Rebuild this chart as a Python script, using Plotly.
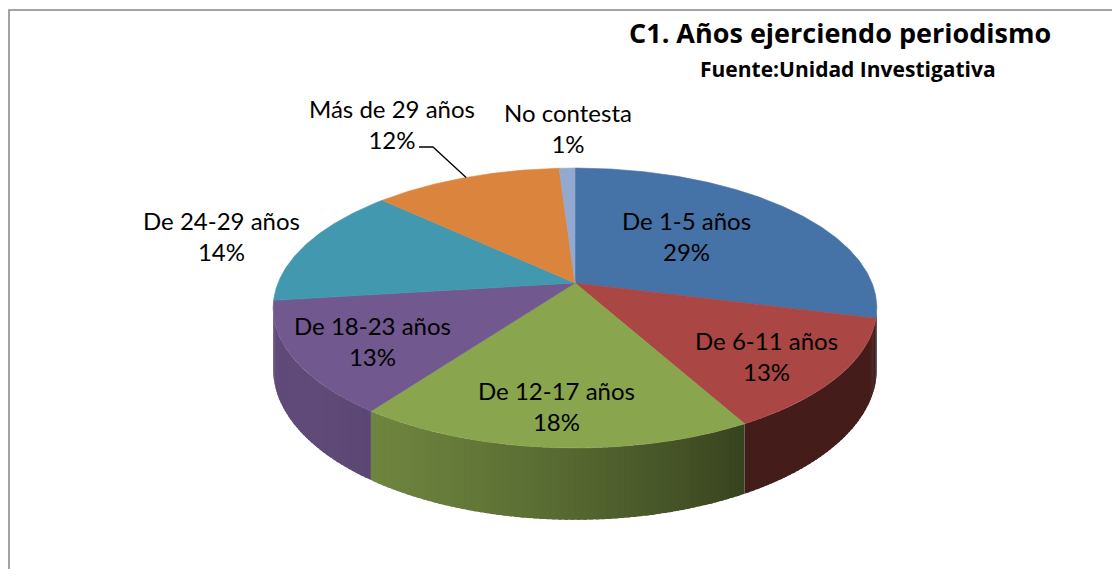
import numpy as np
import plotly.graph_objects as go

# ---------------- data ----------------
categories = ["De 1-5 años", "De 6-11 años", "De 12-17 años", "De 18-23 años",
              "De 24-29 años", "Más de 29 años", "No contesta"]
percent = [29, 13, 18, 13, 14, 12, 1]
colors = ["#4572A7", "#AA4643", "#89A54E", "#71588F", "#4198AF", "#DB843D", "#93A9CF"]
title_text = "C1. Años ejerciendo periodismo"
subtitle_text = "Fuente:Unidad Investigativa"

# ---------------- layout / geometry ----------------
PAGE_MARGIN = 8              # browser body margin around the plot div
W, H = 1120, 577
CX, CY = 575.0, 283.0        # projected pie centre (page pixels)
A, B = 297.0, 135.5          # horizontal / vertical radius factors
K = 0.1786                   # perspective factor
DEPTH = 59.0                 # pie thickness
FONT = "Lato"
TITLE_FONT = "Open Sans"
label_pos = [(686, 236), (766, 356), (556, 406), (372, 341), (221, 236), (392, 124), (568, 128)]
leader_start = [(419, 147), (433, 147)]   # leader line for "Más de 29 años"


def proj(theta_deg, r=1.0, drop=0.0):
    t = np.radians(theta_deg)
    u = r * np.sin(t)
    v = r * np.cos(t)
    d = 1 + K * v
    return CX + A * u / d, CY - B * v / d + drop / d


def shade(hexcol, f):
    h = hexcol.lstrip("#")
    r, g, b = (int(h[i:i + 2], 16) for i in (0, 2, 4))
    return "rgb(%d,%d,%d)" % (r * f, g * f, b * f)


def side_factor(theta):
    return 0.4 + 0.45 * max(0.0, np.cos(np.radians(theta - 240)))


total = float(sum(percent))
bounds = np.concatenate([[0.0], np.cumsum(percent) / total * 360.0])

fig = go.Figure()

# visible front side range
th_r = np.degrees(np.arccos(-K))
th_l = 360 - th_r

# ---- sides (drawn as overlapping thin strips for a smooth gradient) ----
for i, col in enumerate(colors):
    lo = max(bounds[i], th_r)
    hi = min(bounds[i + 1], th_l)
    if lo >= hi:
        continue
    n = int(np.ceil((hi - lo) / 1.0))
    edges = np.linspace(lo, hi, n + 1)
    step = edges[1] - edges[0]
    for j, (a0, a1) in enumerate(zip(edges[:-1], edges[1:])):
        a1e = min(hi, a1 + 0.6 * step)
        ts = np.linspace(a0, a1e, 4)
        xt, yt = proj(ts)
        xb, yb = proj(ts[::-1], drop=DEPTH)
        c = shade(col, side_factor((a0 + a1) / 2))
        fig.add_trace(go.Scatter(
            x=np.concatenate([xt, xb, xt[:1]]), y=np.concatenate([yt, yb, yt[:1]]),
            mode="lines", fill="toself", fillcolor=c, line=dict(color=c, width=0),
            hoverinfo="skip", showlegend=False))

# ---- top faces ----
for i, col in enumerate(colors):
    ts = np.linspace(bounds[i], bounds[i + 1], max(3, int((bounds[i + 1] - bounds[i]) * 2)))
    xr, yr = proj(ts)
    xs = np.concatenate([[CX], xr, [CX]])
    ys = np.concatenate([[CY], yr, [CY]])
    fig.add_trace(go.Scatter(
        x=xs, y=ys, mode="lines", fill="toself", fillcolor=col,
        line=dict(color=col, width=0.6), hoverinfo="skip", showlegend=False,
        name=categories[i]))

# ---- leader line for "Más de 29 años" ----
idx = categories.index("Más de 29 años")
mx, my = proj((bounds[idx] + bounds[idx + 1]) / 2)
fig.add_trace(go.Scatter(
    x=[leader_start[0][0], leader_start[1][0], float(mx)],
    y=[leader_start[0][1], leader_start[1][1], float(my)],
    mode="lines", line=dict(color="black", width=1.3), hoverinfo="skip", showlegend=False))

# ---- labels ----
annotations = []
for (lx, ly), cat, p in zip(label_pos, categories, percent):
    annotations.append(dict(
        x=lx, y=ly, xref="x", yref="y", text=f"{cat}<br>{p}%", showarrow=False,
        font=dict(family=FONT, size=24, color="black"), align="center",
        xanchor="center", yanchor="middle"))

annotations.append(dict(x=840, y=32, xref="x", yref="y", text=f"<b>{title_text}</b>",
                        showarrow=False, font=dict(family=TITLE_FONT, size=27, color="black"),
                        xanchor="center", yanchor="middle"))
annotations.append(dict(x=848, y=69, xref="x", yref="y", text=f"<b>{subtitle_text}</b>",
                        showarrow=False, font=dict(family=TITLE_FONT, size=21, color="black"),
                        xanchor="center", yanchor="middle"))

fig.update_layout(
    width=W - 2 * PAGE_MARGIN, height=H - 2 * PAGE_MARGIN, margin=dict(l=0, r=0, t=0, b=0),
    paper_bgcolor="white", plot_bgcolor="white", showlegend=False,
    xaxis=dict(range=[PAGE_MARGIN, W - PAGE_MARGIN], visible=False, fixedrange=True),
    yaxis=dict(range=[H - PAGE_MARGIN, PAGE_MARGIN], visible=False, fixedrange=True),
    annotations=annotations,
    shapes=[dict(type="rect", xref="x", yref="y", x0=9, y0=10, x1=W + 20, y1=H + 20,
                 line=dict(color="#868686", width=1.5), fillcolor="rgba(0,0,0,0)", layer="below")],
)

fig.write_html("out.html", config={"displayModeBar": False})
